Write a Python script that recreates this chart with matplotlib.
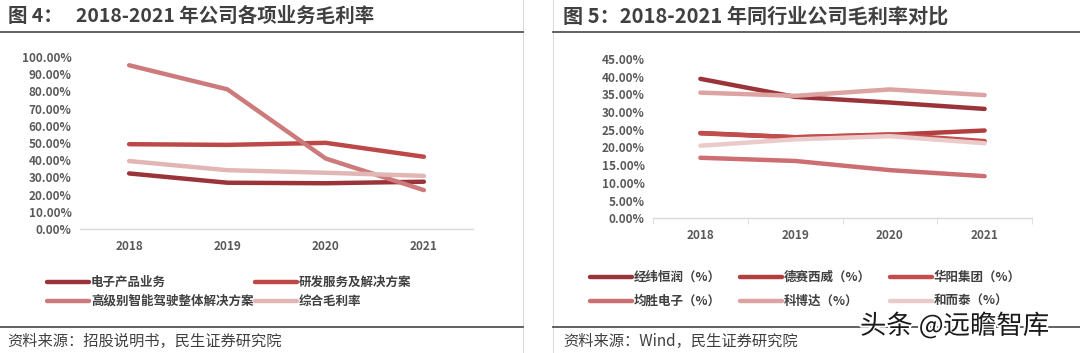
import matplotlib
matplotlib.use('Agg')
import matplotlib.pyplot as plt
import matplotlib.patheffects as pe
from matplotlib.lines import Line2D
from matplotlib.ticker import FuncFormatter

plt.rcParams['font.family'] = ['Noto Sans CJK SC', 'DejaVu Sans']

#====================================================================
# 数据
years = ['2018', '2019', '2020', '2021']

# 图4 公司各项业务毛利率 (%)
biz_names = ['电子产品业务', '研发服务及解决方案', '高级别智能驾驶整体解决方案', '综合毛利率']
biz_electronic = [32.3, 26.9, 26.6, 27.5]
biz_rnd = [49.3, 48.9, 50.1, 42.0]
biz_adas = [95.2, 81.2, 41.0, 22.6]
biz_total = [39.5, 34.2, 32.7, 30.9]
biz_colors = ['#9B3438', '#BC4848', '#CD7A7C', '#E3B6B6']

# 图5 同行业公司毛利率 (%)
peer_names = ['经纬恒润（%）', '德赛西威（%）', '华阳集团（%）',
              '均胜电子（%）', '科博达（%）', '和而泰（%）']
peer_jwhr = [39.4, 34.3, 32.7, 30.9]
peer_desay = [24.1, 22.9, 23.6, 24.8]
peer_huayang = [24.0, 22.9, 23.7, 21.8]
peer_joyson = [17.1, 16.2, 13.6, 11.9]
peer_keboda = [35.5, 34.6, 36.4, 34.8]
peer_het = [20.5, 22.3, 23.2, 21.2]
peer_colors = ['#9B3438', '#B23E3E', '#C24D4D', '#CC6E72', '#DDA2A2', '#EBCACA']
#====================================================================

W, H = 1080, 353
TXT = '#404040'
TICK = '#595959'


def fx(px):
    return px / W


def fy(py):
    return 1 - py / H


def style_axis(ax, ymax, step, ticks_out):
    ax.set_xlim(-0.5, 3.5)
    ax.set_ylim(0, ymax)
    ax.set_yticks([i * step for i in range(int(round(ymax / step)) + 1)])
    ax.yaxis.set_major_formatter(FuncFormatter(lambda v, p: '%.2f%%' % v))
    ax.set_xticks(range(len(years)))
    ax.set_xticklabels(years)
    for s in ['top', 'right', 'left']:
        ax.spines[s].set_visible(False)
    ax.spines['bottom'].set_color('#D9D9D9')
    ax.spines['bottom'].set_linewidth(1)
    ax.tick_params(axis='y', length=0, pad=6, labelsize=8.5, labelcolor=TICK)
    ax.tick_params(axis='x', length=0, pad=8, labelsize=8.5, labelcolor=TICK)
    for t in ax.get_xticklabels() + ax.get_yticklabels():
        t.set_fontweight('bold')
    if ticks_out:
        ax.set_xticks([-0.5, 0.5, 1.5, 2.5, 3.5], minor=True)
        ax.tick_params(axis='x', which='minor', length=4, color='#D9D9D9', direction='out')


def legend_entry(x, y, color, label):
    fig.add_artist(Line2D([fx(x), fx(x + 42)], [fy(y), fy(y)], color=color, lw=3.2,
                          solid_capstyle='round', transform=fig.transFigure))
    fig.text(fx(x + 44), fy(y), label, fontsize=9, fontweight='bold', color=TXT,
             va='center', ha='left')


fig = plt.figure(figsize=(10.8, 3.53), dpi=100)

# 分隔线和标题线
for x in [523, 553]:
    fig.add_artist(Line2D([fx(x), fx(x)], [0, 1], color='#DCDCDC', lw=0.8, transform=fig.transFigure))
for x0, x1 in [(0, 523), (553, 1080)]:
    for y in [32, 327]:
        fig.add_artist(Line2D([fx(x0), fx(x1)], [fy(y), fy(y)], color='#555555', lw=1.3,
                              transform=fig.transFigure))

fig.text(fx(8), fy(16), '图 4：   2018-2021 年公司各项业务毛利率', fontsize=14, fontweight='bold',
         color=TXT, va='center', ha='left')
fig.text(fx(563), fy(16), '图 5：2018-2021 年同行业公司毛利率对比', fontsize=14.5, fontweight='bold',
         color=TXT, va='center', ha='left')
fig.text(fx(7), fy(341), '资料来源：招股说明书，民生证券研究院', fontsize=11, color=TXT,
         va='center', ha='left')
fig.text(fx(563), fy(341), '资料来源：Wind，民生证券研究院', fontsize=11, color=TXT,
         va='center', ha='left')

# 图4
ax1 = fig.add_axes([fx(80), fy(229), fx(473 - 80), (229 - 57) / H])
x = range(len(years))
biz_series = [biz_electronic, biz_rnd, biz_adas, biz_total]
for vals, c in zip(biz_series, biz_colors):
    ax1.plot(x, vals, color=c, lw=3.2, solid_capstyle='round')
style_axis(ax1, 100, 10, False)

legend_entry(47, 282, biz_colors[0], biz_names[0])
legend_entry(255, 282, biz_colors[1], biz_names[1])
legend_entry(47, 301, biz_colors[2], biz_names[2])
legend_entry(255, 301, biz_colors[3], biz_names[3])

# 图5
ax2 = fig.add_axes([fx(653), fy(218.3), fx(1032 - 653), (218.3 - 59) / H])
peer_series = [peer_jwhr, peer_desay, peer_huayang, peer_joyson, peer_keboda, peer_het]
for vals, c in zip(peer_series, peer_colors):
    ax2.plot(x, vals, color=c, lw=3.2, solid_capstyle='round')
style_axis(ax2, 45, 5, True)

for i, (name, c) in enumerate(zip(peer_names, peer_colors)):
    legend_entry(590 + 150 * (i % 3), 277 + 24 * (i // 3), c, name)

# 水印
fig.text(fx(860), fy(326), '头条 @远瞻智库', fontsize=19, color='#1A1A1A', va='center', ha='left',
         path_effects=[pe.withStroke(linewidth=3, foreground='white')])

fig.savefig('out.png', dpi=100)
